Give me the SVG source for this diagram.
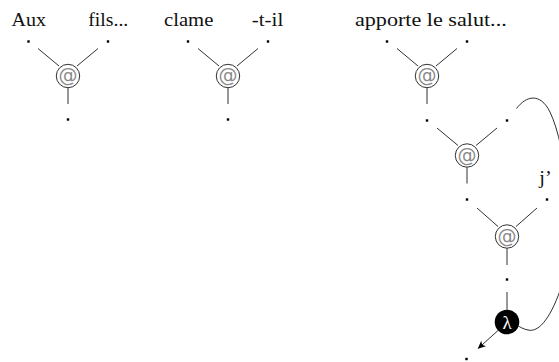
<svg xmlns="http://www.w3.org/2000/svg" width="559" height="362" viewBox="0 0 559 362">
  <style>
    .edge { stroke: #1a1a1a; stroke-width: 0.9; fill: none; }
    .app { fill: #ffffff; stroke: #1a1a1a; stroke-width: 0.9; }
    .at { font-family: "DejaVu Sans", sans-serif; font-size: 19px; fill: #8a8a8a; text-anchor: middle; }
    .lam { fill: #000000; }
    .lamtxt { font-family: "Liberation Serif", serif; font-size: 19px; fill: #ffffff; text-anchor: middle; }
    .word { font-family: "Liberation Serif", serif; font-size: 19px; fill: #111111; }
    .dot { fill: #000000; }
  </style>
  <defs>
    <marker id="arrow" viewBox="0 0 10 10" refX="9" refY="5" markerWidth="8" markerHeight="8" markerUnits="userSpaceOnUse" orient="auto">
      <path d="M0,0.5 L10,5 L0,9.5 L2.5,5 Z" fill="#000000"/>
    </marker>
    <rect id="pt" x="-1.2" y="-1.2" width="2.4" height="2.4"/>
  </defs>

  <!-- words above the input ports -->
  <g id="labels">
    <text class="word" x="11.5" y="25.5" textLength="34.5" lengthAdjust="spacingAndGlyphs">Aux</text>
    <text class="word" x="88.3" y="25.5" textLength="40" lengthAdjust="spacingAndGlyphs">fils...</text>
    <text class="word" x="164" y="25.5" textLength="49.3" lengthAdjust="spacingAndGlyphs">clame</text>
    <text class="word" x="251.7" y="25.5" textLength="31.6" lengthAdjust="spacingAndGlyphs">-t-il</text>
    <text class="word" x="355" y="25.5" textLength="151.7" lengthAdjust="spacingAndGlyphs">apporte le salut...</text>
    <text class="word" x="539.3" y="184" textLength="12.4" lengthAdjust="spacingAndGlyphs">j’</text>
  </g>

  <!-- connectors: port dots and wires -->
  <g id="connectors">
    <!-- node 1 -->
    <path class="edge" d="M38,48.5 L59,66 M98,48.5 L77,66 M68,87.7 L68,104"/>
    <!-- node 2 -->
    <path class="edge" d="M198,48.5 L219,66 M258,48.5 L237,66 M228,87.7 L228,104"/>
    <!-- node 3 -->
    <path class="edge" d="M397,48.5 L418,66 M457,48.5 L436,66 M427,87.7 L427,104"/>
    <!-- node 4 -->
    <path class="edge" d="M437,128 L458,145.5 M497,128 L476,145.5 M467,167.2 L467,183.5"/>
    <!-- node 5 -->
    <path class="edge" d="M477,208 L498,226.5 M537,208 L516,226.5 M507,248.2 L507,265"/>
    <!-- into lambda -->
    <path class="edge" d="M507,292 L507,309.7"/>
    <!-- lambda output arrow -->
    <path class="edge" d="M498,330.5 L478.3,348.3" marker-end="url(#arrow)"/>
    <!-- binding loop -->
    <path class="edge" d="M516.5,108.5 C526,96 540,92 550,112 C566,145 578,240 562,285 C552,315 540,333 528,330 C523,329 520,327 518.5,326"/>

    <g class="dot">
      <use href="#pt" x="28.5" y="41.5"/>
      <use href="#pt" x="108" y="41.5"/>
      <use href="#pt" x="68" y="119.5"/>
      <use href="#pt" x="188" y="41.5"/>
      <use href="#pt" x="268" y="41.5"/>
      <use href="#pt" x="228" y="119.5"/>
      <use href="#pt" x="387" y="41.5"/>
      <use href="#pt" x="467" y="41.5"/>
      <use href="#pt" x="427" y="120.5"/>
      <use href="#pt" x="507" y="120.5"/>
      <use href="#pt" x="467" y="199.5"/>
      <use href="#pt" x="547" y="199.5"/>
      <use href="#pt" x="507" y="279.5"/>
      <use href="#pt" x="466.5" y="359"/>
    </g>
  </g>

  <!-- application nodes -->
  <g id="app1">
    <circle class="app" cx="68" cy="76" r="11.7"/>
    <text class="at" x="68" y="82.3">@</text>
  </g>
  <g id="app2">
    <circle class="app" cx="228" cy="76" r="11.7"/>
    <text class="at" x="228" y="82.3">@</text>
  </g>
  <g id="app3">
    <circle class="app" cx="427" cy="76" r="11.7"/>
    <text class="at" x="427" y="82.3">@</text>
  </g>
  <g id="app4">
    <circle class="app" cx="467" cy="155.5" r="11.7"/>
    <text class="at" x="467" y="161.8">@</text>
  </g>
  <g id="app5">
    <circle class="app" cx="507" cy="236.5" r="11.7"/>
    <text class="at" x="507" y="242.8">@</text>
  </g>

  <!-- abstraction node -->
  <g id="lambda">
    <circle class="lam" cx="507" cy="322" r="12.3"/>
    <text class="lamtxt" x="507" y="328.5">λ</text>
  </g>
</svg>
